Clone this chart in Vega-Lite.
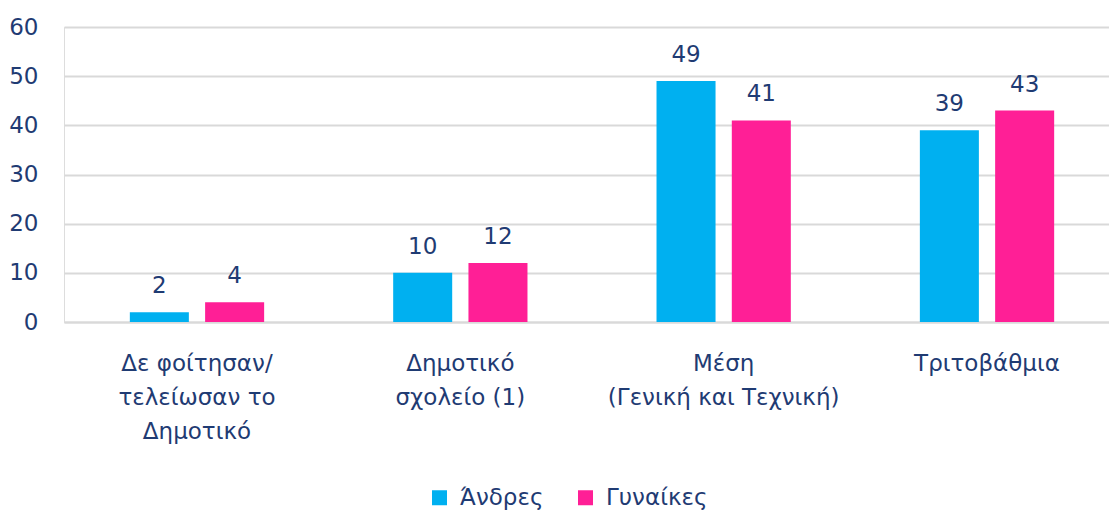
{
  "$schema": "https://vega.github.io/schema/vega-lite/v6.json",
  "width": 1056,
  "height": 295,
  "autosize": {"type": "none"},
  "padding": {"left": 64, "top": 27, "right": -11, "bottom": 188},
  "background": "white",
  "data": {
    "values": [
      {"cat": "Δε φοίτησαν/|τελείωσαν το|Δημοτικό", "sex": "Άνδρες", "v": 2},
      {"cat": "Δε φοίτησαν/|τελείωσαν το|Δημοτικό", "sex": "Γυναίκες", "v": 4},
      {"cat": "Δημοτικό|σχολείο (1)", "sex": "Άνδρες", "v": 10},
      {"cat": "Δημοτικό|σχολείο (1)", "sex": "Γυναίκες", "v": 12},
      {"cat": "Μέση|(Γενική και Τεχνική)", "sex": "Άνδρες", "v": 49},
      {"cat": "Μέση|(Γενική και Τεχνική)", "sex": "Γυναίκες", "v": 41},
      {"cat": "Τριτοβάθμια", "sex": "Άνδρες", "v": 39},
      {"cat": "Τριτοβάθμια", "sex": "Γυναίκες", "v": 43}
    ]
  },
  "encoding": {
    "x": {
      "field": "cat", "type": "nominal", "sort": null,
      "scale": {"paddingInner": 0.49, "paddingOuter": 0.25},
      "axis": {
        "title": null, "labelAngle": 0, "labelExpr": "split(datum.label, '|')",
        "labelFontSize": 23, "labelLineHeight": 34, "labelColor": "#1F3B73",
        "labelFont": "DejaVu Sans", "labelPadding": 30, "ticks": false,
        "domainColor": "#D9D9D9", "domainWidth": 2, "labelLimit": 400, "labelBaseline": "top"
      }
    },
    "xOffset": {"field": "sex", "type": "nominal", "sort": ["Άνδρες", "Γυναίκες"], "scale": {"paddingInner": 0.216, "paddingOuter": 0}},
    "y": {
      "field": "v", "type": "quantitative",
      "scale": {"domain": [0, 60]},
      "axis": {
        "title": null, "values": [0, 10, 20, 30, 40, 50, 60], "domain": false, "ticks": false,
        "labelFontSize": 23, "labelColor": "#1F3B73", "labelFont": "DejaVu Sans", "labelPadding": 26,
        "gridColor": "#D9D9D9", "gridWidth": 2
      }
    }
  },
  "layer": [
    {
      "mark": {"type": "bar"},
      "encoding": {
        "color": {
          "field": "sex", "type": "nominal",
          "scale": {"domain": ["Άνδρες", "Γυναίκες"], "range": ["#00B0F0", "#FF1F96"]},
          "legend": {
            "title": null, "orient": "none", "direction": "horizontal", "legendX": 364, "legendY": 459,
            "symbolType": "square", "symbolSize": 225, "symbolStrokeWidth": 0, "symbolOpacity": 1,
            "labelFontSize": 23, "labelColor": "#1F3B73", "labelFont": "DejaVu Sans", "columnPadding": 30, "labelOffset": 9
          }
        }
      }
    },
    {
      "mark": {"type": "text", "baseline": "bottom", "dy": -14, "fontSize": 23, "font": "DejaVu Sans", "color": "#1F3B73"},
      "encoding": {"text": {"field": "v", "type": "quantitative"}}
    }
  ]
}
